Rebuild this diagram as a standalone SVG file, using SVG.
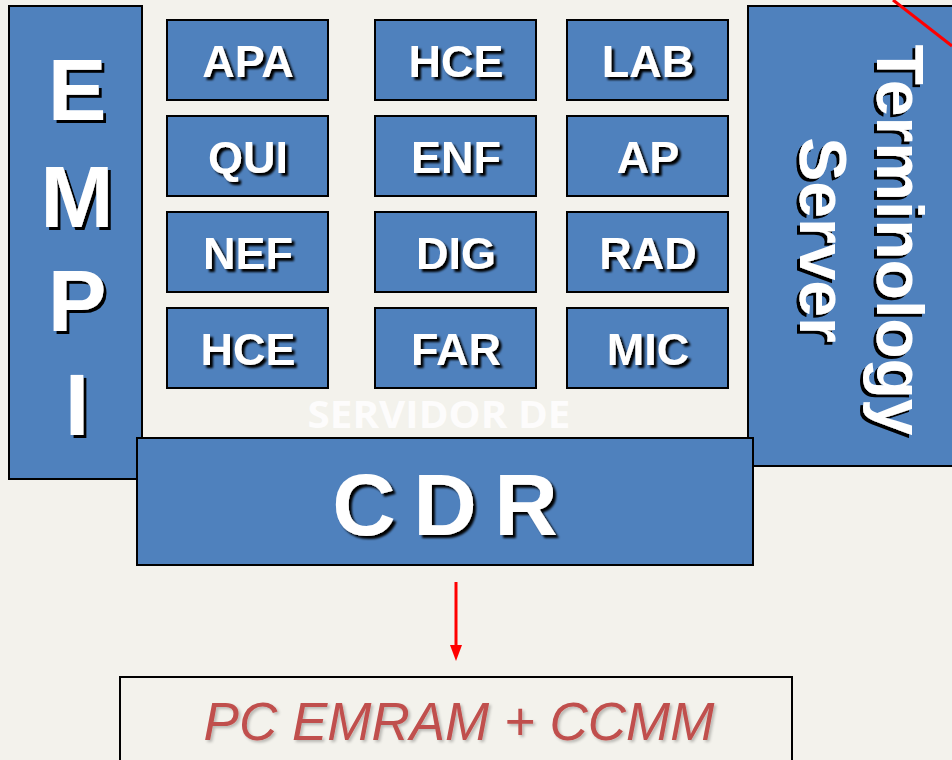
<svg xmlns="http://www.w3.org/2000/svg" width="952" height="760" viewBox="0 0 952 760">
<defs>
<filter id="sh" x="-20%" y="-20%" width="140%" height="140%">
<feGaussianBlur in="SourceAlpha" stdDeviation="1"/>
<feOffset dx="2.5" dy="2.5" result="o"/>
<feMerge><feMergeNode/><feMergeNode in="SourceGraphic"/></feMerge>
</filter>
<filter id="hs" x="-20%" y="-20%" width="140%" height="140%">
<feOffset in="SourceAlpha" dx="3" dy="3"/>
<feMerge><feMergeNode/><feMergeNode in="SourceGraphic"/></feMerge>
</filter>
<filter id="ss" x="-10%" y="-20%" width="120%" height="140%">
<feGaussianBlur in="SourceAlpha" stdDeviation="1.5"/>
<feOffset dx="1.5" dy="1.5"/>
<feComponentTransfer><feFuncA type="linear" slope="0.25"/></feComponentTransfer>
<feMerge><feMergeNode/><feMergeNode in="SourceGraphic"/></feMerge>
</filter>
<style>
.box{fill:#4F81BD;stroke:#000;stroke-width:2}
.lbl{font-family:"Liberation Sans",Arial,sans-serif;font-weight:bold;font-size:45px;fill:#fff;text-anchor:middle}
.big{font-family:"Liberation Sans",Arial,sans-serif;font-weight:bold;font-size:88px;fill:#fff;text-anchor:middle}
.ts{font-family:"Liberation Sans",Arial,sans-serif;font-weight:bold;font-size:66px;fill:#fff;text-anchor:middle}
</style>
</defs>
<rect x="0" y="0" width="952" height="760" fill="#F3F2EC"/>

<g id="empi">
<rect class="box" x="9" y="6" width="133" height="473"/>
<text class="big" x="77" y="120" filter="url(#hs)">E</text>
<text class="big" x="77" y="227" filter="url(#hs)">M</text>
<text class="big" x="77" y="331" filter="url(#hs)">P</text>
<text class="big" x="77" y="435" filter="url(#hs)">I</text>
</g>

<g id="terminology-server">
<rect class="box" x="748" y="6" width="210" height="460"/>
<text class="ts" transform="translate(877,240) rotate(90)" x="0" y="0" filter="url(#hs)">Terminology</text>
<text class="ts" transform="translate(800,240) rotate(90)" x="0" y="0" filter="url(#hs)">Server</text>
</g>

<g id="apa"><rect class="box" x="167" y="20" width="161" height="80"/><text class="lbl" x="248" y="77" filter="url(#sh)">APA</text></g>
<g id="hce1"><rect class="box" x="375" y="20" width="161" height="80"/><text class="lbl" x="456" y="77" filter="url(#sh)">HCE</text></g>
<g id="lab"><rect class="box" x="567" y="20" width="161" height="80"/><text class="lbl" x="648" y="77" filter="url(#sh)">LAB</text></g>

<g id="qui"><rect class="box" x="167" y="116" width="161" height="80"/><text class="lbl" x="248" y="173" filter="url(#sh)">QUI</text></g>
<g id="enf"><rect class="box" x="375" y="116" width="161" height="80"/><text class="lbl" x="456" y="173" filter="url(#sh)">ENF</text></g>
<g id="ap"><rect class="box" x="567" y="116" width="161" height="80"/><text class="lbl" x="648" y="173" filter="url(#sh)">AP</text></g>

<g id="nef"><rect class="box" x="167" y="212" width="161" height="80"/><text class="lbl" x="248" y="269" filter="url(#sh)">NEF</text></g>
<g id="dig"><rect class="box" x="375" y="212" width="161" height="80"/><text class="lbl" x="456" y="269" filter="url(#sh)">DIG</text></g>
<g id="rad"><rect class="box" x="567" y="212" width="161" height="80"/><text class="lbl" x="648" y="269" filter="url(#sh)">RAD</text></g>

<g id="hce2"><rect class="box" x="167" y="308" width="161" height="80"/><text class="lbl" x="248" y="365" filter="url(#sh)">HCE</text></g>
<g id="far"><rect class="box" x="375" y="308" width="161" height="80"/><text class="lbl" x="456" y="365" filter="url(#sh)">FAR</text></g>
<g id="mic"><rect class="box" x="567" y="308" width="161" height="80"/><text class="lbl" x="648" y="365" filter="url(#sh)">MIC</text></g>

<text x="439" y="428" font-family="'Open Sans','Liberation Sans',sans-serif" font-weight="bold" font-size="38" fill="#FFFFFF" fill-opacity="0.85" text-anchor="middle" textLength="263" lengthAdjust="spacingAndGlyphs">SERVIDOR DE</text>

<g id="cdr">
<rect class="box" x="137" y="438" width="616" height="127"/>
<text class="big" x="445" y="535" word-spacing="-7" filter="url(#sh)">C D R</text>
</g>

<g id="pc-emram">
<rect x="120" y="677" width="672" height="90" fill="none" stroke="#000" stroke-width="2"/>
<text x="459" y="740" font-family="'Liberation Sans',Arial,sans-serif" font-style="italic" font-size="53" fill="#C0504D" text-anchor="middle" filter="url(#ss)">PC EMRAM + CCMM</text>
</g>

<g id="connectors">
<line x1="456" y1="582" x2="456" y2="647" stroke="#FF0000" stroke-width="3"/>
<path d="M450,645 L462,645 L456,661 Z" fill="#FF0000"/>
<line x1="893" y1="0" x2="952" y2="46" stroke="#FF0000" stroke-width="3"/>
</g>
</svg>
